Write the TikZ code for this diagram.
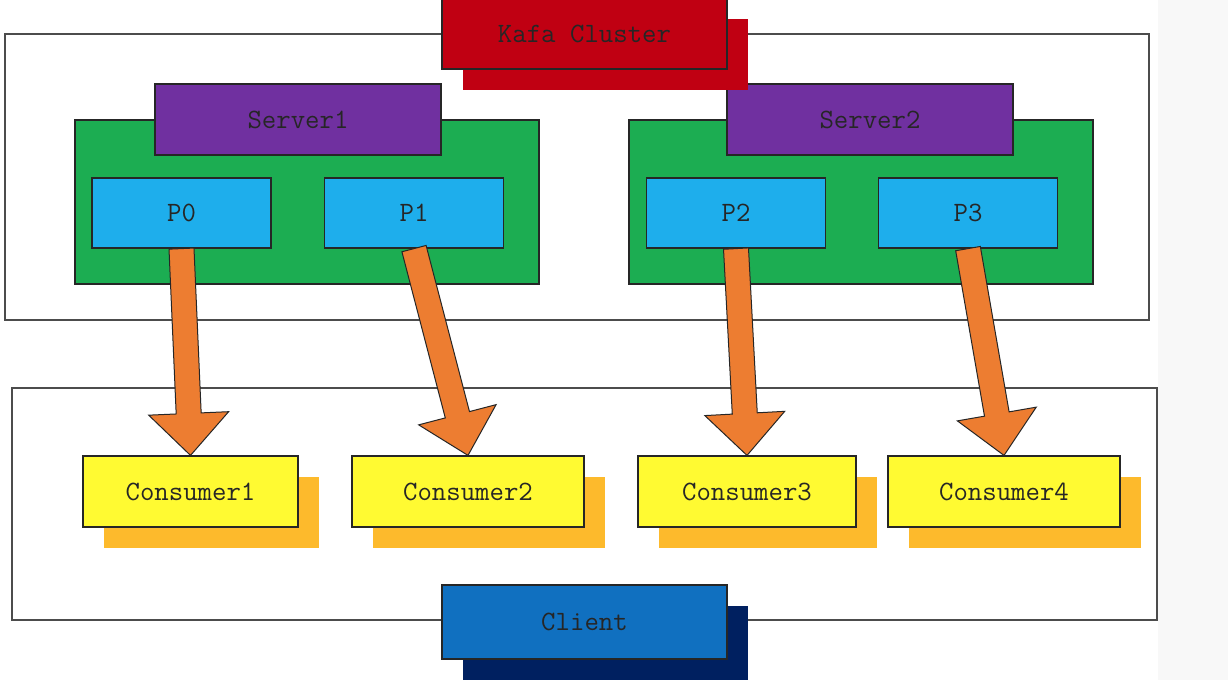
\documentclass[tikz,border=0pt]{standalone}
\usepackage{fontspec}
\usetikzlibrary{shadows,calc}

\definecolor{clusterred}{RGB}{192,0,18}
\definecolor{serverpurple}{RGB}{112,48,160}
\definecolor{brokergreen}{RGB}{28,173,82}
\definecolor{partblue}{RGB}{30,174,236}
\definecolor{floworange}{RGB}{237,125,49}
\definecolor{consumeryellow}{RGB}{255,250,50}
\definecolor{consumershade}{RGB}{253,186,44}
\definecolor{clientblue}{RGB}{16,112,192}
\definecolor{clientnavy}{RGB}{0,32,96}
\definecolor{pagegray}{RGB}{248,248,248}

\tikzset{
  panel/.style={draw=black!70, line width=1.3pt, fill=white, inner sep=0pt},
  box/.style={draw=black!85, line width=1.2pt, inner sep=0pt, minimum height=71pt,
    font=\ttfamily\fontsize{28}{28}\selectfont, text=black!85},
  lifted/.style={drop shadow={shadow xshift=21pt, shadow yshift=-21pt,
    fill=#1, opacity=1, draw=none}},
  flow/.style={draw=black!85, line width=1pt, fill=floworange, line join=miter},
}

\newcommand{\fatarrow}[2]{%
  \draw[flow] let \p1=(#1), \p2=(#2),
    \n1={atan2(\y2-\y1,\x2-\x1)}, \n2={veclen(\x2-\x1,\y2-\y1)} in
    {[shift={(\p1)}, rotate=\n1]
      (0pt,-12.5pt) -- ({\n2*1pt-42pt},-12.5pt) -- ({\n2*1pt-42pt},-40pt)
      -- ({\n2*1pt},0pt) -- ({\n2*1pt-42pt},40pt) -- ({\n2*1pt-42pt},12.5pt)
      -- (0pt,12.5pt) -- cycle};%
}

\begin{document}
\begin{tikzpicture}[x=1pt, y=-1pt]
  \useasboundingbox (0,0) rectangle (1228,680);
  \fill[white] (0,0) rectangle (1158,680);
  \fill[pagegray] (1158,0) rectangle (1228,680);

  % frames
  \node[panel, minimum width=1144pt, minimum height=286pt] (cluster) at (577,177) {};
  \node[panel, minimum width=1145pt, minimum height=232pt] (clientarea) at (584.5,504) {};

  % brokers
  \node[box, fill=brokergreen, minimum width=464pt, minimum height=164pt] (broker1) at (307,202) {};
  \node[box, fill=brokergreen, minimum width=464pt, minimum height=164pt] (broker2) at (861,202) {};
  \node[box, fill=serverpurple, minimum width=286pt] (server1) at (298,119.5) {Server1};
  \node[box, fill=serverpurple, minimum width=286pt] (server2) at (870,119.5) {Server2};
  \node[box, fill=partblue, minimum width=179pt, minimum height=70pt] (p0) at (181.5,213) {P0};
  \node[box, fill=partblue, minimum width=179pt, minimum height=70pt] (p1) at (414,213) {P1};
  \node[box, fill=partblue, minimum width=179pt, minimum height=70pt] (p2) at (736,213) {P2};
  \node[box, fill=partblue, minimum width=179pt, minimum height=70pt] (p3) at (968,213) {P3};

  \node[box, fill=clusterred, lifted=clusterred, minimum width=285pt] (kafka) at (584.5,33.5) {Kafa Cluster};

  % consumers
  \node[box, fill=consumeryellow, lifted=consumershade, minimum width=215pt] (c1) at (190.5,491.5) {Consumer1};
  \node[box, fill=consumeryellow, lifted=consumershade, minimum width=232pt] (c2) at (468,491.5) {Consumer2};
  \node[box, fill=consumeryellow, lifted=consumershade, minimum width=218pt] (c3) at (747,491.5) {Consumer3};
  \node[box, fill=consumeryellow, lifted=consumershade, minimum width=232pt] (c4) at (1004,491.5) {Consumer4};

  \node[box, fill=clientblue, lifted=clientnavy, minimum width=285pt, minimum height=74pt] (client) at (584.5,622) {Client};

  \fatarrow{p0.south}{c1.north}
  \fatarrow{p1.south}{c2.north}
  \fatarrow{p2.south}{c3.north}
  \fatarrow{p3.south}{c4.north}
\end{tikzpicture}
\end{document}
